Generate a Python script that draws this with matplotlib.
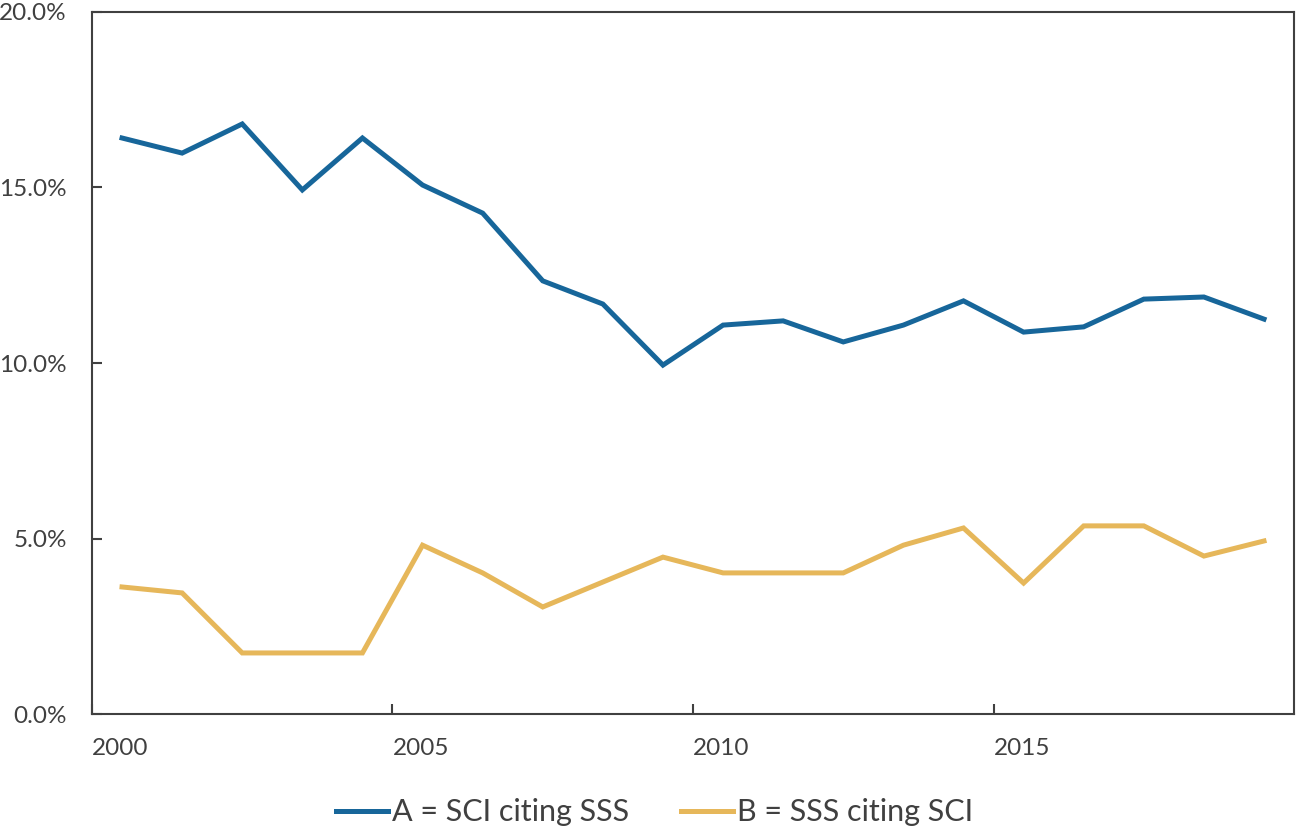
import matplotlib
matplotlib.use("Agg")
import matplotlib.pyplot as plt
from matplotlib.ticker import FuncFormatter

plt.rcParams['font.family'] = ['Lato', 'DejaVu Sans']

years = list(range(2000, 2020))
sci_citing_sss = [16.41, 15.98, 16.81, 14.93, 16.41, 15.07, 14.27, 12.34, 11.68, 9.94,
                  11.08, 11.20, 10.60, 11.08, 11.77, 10.88, 11.03, 11.82, 11.88, 11.25]
sss_citing_sci = [3.62, 3.45, 1.74, 1.74, 1.74, 4.81, 4.02, 3.05, 3.76, 4.47,
                  4.02, 4.02, 4.02, 4.81, 5.30, 3.73, 5.36, 5.36, 4.50, 4.93]
labels = ["A = SCI citing SSS", "B = SSS citing SCI"]
tick_years = [2000, 2005, 2010, 2015]

text_color = "#404040"
blue = "#17669A"
gold = "#E6B75A"

fig = plt.figure(figsize=(12.99, 8.32), dpi=100)
ax = fig.add_axes([0.0708, 0.1418, 0.9254, 0.8438])

# points sit mid-year on a date-like axis
x = [y + 0.5 for y in years]
ax.plot(x, sci_citing_sss, color=blue, lw=3.6, label=labels[0], solid_joinstyle="miter")
ax.plot(x, sss_citing_sci, color=gold, lw=3.6, label=labels[1], solid_joinstyle="miter")

ax.set_xlim(2000, 2020)
ax.set_ylim(0, 20)
ax.set_xticks(tick_years)
ax.set_xticklabels([str(t) for t in tick_years], ha="left")
ax.set_yticks([0, 5, 10, 15, 20])
ax.yaxis.set_major_formatter(FuncFormatter(lambda v, p: f"{v:.1f}%"))

for s in ax.spines.values():
    s.set_color(text_color)
    s.set_linewidth(1.5)

ax.tick_params(axis="both", direction="in", length=7, width=1.5, color=text_color,
               labelcolor=text_color, labelsize=17.5)
ax.tick_params(axis="x", pad=17)
ax.tick_params(axis="y", pad=18)

leg = ax.legend(loc="center", bbox_to_anchor=(0.468, -0.14), ncol=2, frameon=False,
                fontsize=22, handlelength=1.7, handletextpad=0.13, columnspacing=1.7)
for t in leg.get_texts():
    t.set_color(text_color)

fig.savefig("out.png", dpi=100)
